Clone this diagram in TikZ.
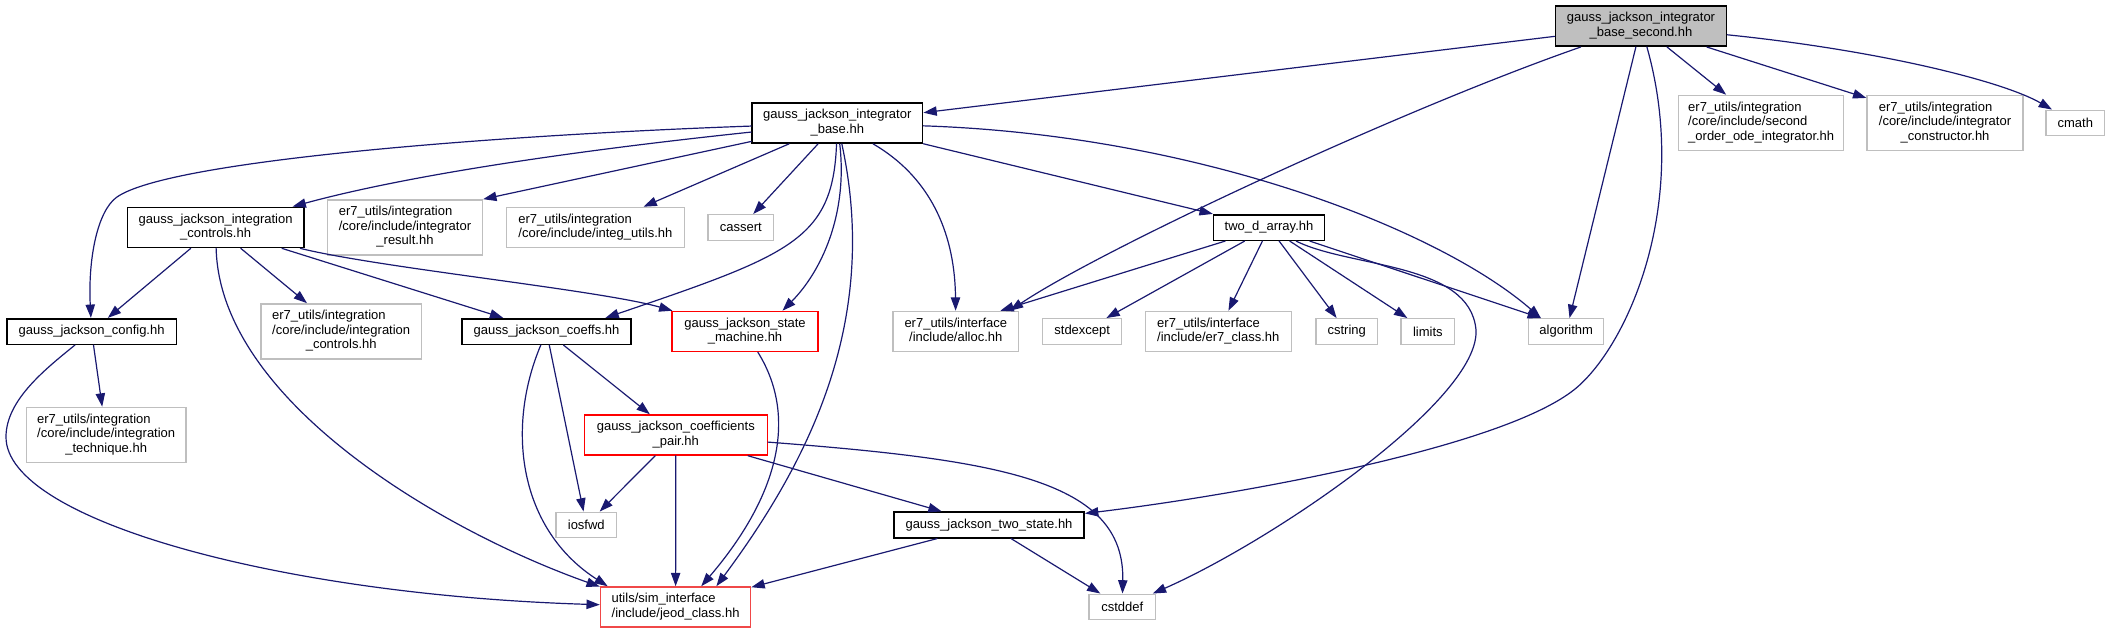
\documentclass[tikz,border=0pt]{standalone}
\usepackage{fontspec}
\setmainfont{Liberation Sans}
\usetikzlibrary{arrows.meta}

\definecolor{edgeBlue}{RGB}{25,25,112}
\definecolor{grey75}{RGB}{191,191,191}
\definecolor{truncRed}{RGB}{255,0,0}
\definecolor{truncRedLight}{RGB}{240,72,72}

% multi-line labels: lines left, last line centred
\newcommand{\flines}[1]{\begin{tabular}{@{}l@{}}#1\end{tabular}}
\newcommand{\lastln}[1]{\multicolumn{1}{@{}c@{}}{#1}}

\begin{document}
\begin{tikzpicture}[x=0.75pt, y=-0.75pt]

% ---------------- styles ----------------
\tikzset{
  incFile/.style  ={draw=black, fill=white, line width=1.2pt, inner sep=0pt,
                    font=\fontsize{9.75}{10.8}\selectfont},
  incRoot/.style  ={incFile, fill=grey75},
  incExt/.style   ={incFile, draw=grey75, line width=1pt},
  incTrunc/.style ={incFile, draw=truncRed, line width=1pt},
  sz/.style 2 args={minimum width=#1*0.75pt, minimum height=#2*0.75pt},
  incEdge/.style  ={draw=edgeBlue, line width=0.9pt, line cap=round,
                    -{Triangle[length=10pt, width=7pt]}}
}

% ---------------- parameters (pixel grid) ----------------
\def\yA{26}     % rank y
\def\yB{123}
\def\yC{227.5}
\def\yD{331.5}
\def\yE{435}
\def\yF{525}
\def\yG{607}
\def\hOne{25.6}   % box heights
\def\hTwo{40.2}
\def\hThree{55.3}

\useasboundingbox (0,0) rectangle (2110,632);

% ---------------- files ----------------
\node[incRoot, sz={171}{40.5}] (root) at (1641,\yA)
  {\flines{gauss\_jackson\_integrator\\\lastln{\_base\_second.hh}}};

\node[incFile, sz={170.6}{\hTwo}] (gjBase) at (837.3,\yB)
  {\flines{gauss\_jackson\_integrator\\\lastln{\_base.hh}}};
\node[incExt, sz={165}{\hThree}] (er7Second) at (1761.2,\yB)
  {\flines{er7\_utils/integration\\/core/include/second\\\lastln{\_order\_ode\_integrator.hh}}};
\node[incExt, sz={156}{\hThree}] (er7Constructor) at (1945,\yB)
  {\flines{er7\_utils/integration\\/core/include/integrator\\\lastln{\_constructor.hh}}};
\node[incExt, sz={58.5}{\hOne}] (sysCmath) at (2075.3,\yB) {cmath};

\node[incFile, sz={176.2}{\hTwo}] (gjControls) at (215.6,\yC)
  {\flines{gauss\_jackson\_integration\\\lastln{\_controls.hh}}};
\node[incExt, sz={155}{\hThree}] (er7Result) at (405,\yC)
  {\flines{er7\_utils/integration\\/core/include/integrator\\\lastln{\_result.hh}}};
\node[incExt, sz={178}{\hTwo}] (er7IntegUtils) at (595.4,\yC)
  {\flines{er7\_utils/integration\\\lastln{/core/include/integ\_utils.hh}}};
\node[incExt, sz={65.6}{\hOne}] (sysCassert) at (740.8,\yC) {cassert};
\node[incFile, sz={110.8}{\hOne}] (twoDArray) at (1269,\yC) {two\_d\_array.hh};

\node[incFile, sz={169.8}{\hOne}] (gjConfig) at (91.6,\yD) {gauss\_jackson\_config.hh};
\node[incExt, sz={160.5}{\hThree}] (er7IntControls) at (341.2,\yD)
  {\flines{er7\_utils/integration\\/core/include/integration\\\lastln{\_controls.hh}}};
\node[incFile, sz={169}{\hOne}] (gjCoeffs) at (546.5,\yD) {gauss\_jackson\_coeffs.hh};
\node[incTrunc, sz={146}{\hTwo}] (gjState) at (745,\yD)
  {\flines{gauss\_jackson\_state\\\lastln{\_machine.hh}}};
\node[incExt, sz={125.6}{\hTwo}] (er7Alloc) at (955.8,\yD)
  {\flines{er7\_utils/interface\\\lastln{/include/alloc.hh}}};
\node[incExt, sz={79.2}{\hOne}] (sysStdexcept) at (1082.2,\yD) {stdexcept};
\node[incExt, sz={146}{\hTwo}] (er7Class) at (1218.3,\yD)
  {\flines{er7\_utils/interface\\\lastln{/include/er7\_class.hh}}};
\node[incExt, sz={61.7}{\hOne}] (sysCstring) at (1346.7,\yD) {cstring};
\node[incExt, sz={53.7}{\hOne}] (sysLimits) at (1427.9,\yD) {limits};
\node[incExt, sz={75}{\hOne}] (sysAlgorithm) at (1566.2,\yD) {algorithm};

\node[incExt, sz={159.5}{\hThree}] (er7Technique) at (106.2,\yE)
  {\flines{er7\_utils/integration\\/core/include/integration\\\lastln{\_technique.hh}}};
\node[incTrunc, sz={183}{\hTwo}] (gjPair) at (675.8,\yE)
  {\flines{gauss\_jackson\_coefficients\\\lastln{\_pair.hh}}};

\node[incExt, sz={60.6}{\hOne}] (sysIosfwd) at (586.3,\yF) {iosfwd};
\node[incFile, sz={190.4}{\hOne}] (gjTwoState) at (989,\yF) {gauss\_jackson\_two\_state.hh};

\node[incTrunc, draw=truncRedLight, sz={150.2}{\hTwo}] (jeodClass) at (675.6,\yG)
  {\flines{utils/sim\_interface\\\lastln{/include/jeod\_class.hh}}};
\node[incExt, sz={66.4}{\hOne}] (sysCstddef) at (1122.2,\yG) {cstddef};

% ---------------- includes of the root ----------------
\draw[incEdge] (root) -- (gjBase);
\draw[incEdge] (root) .. controls (1400,110) and (1100,250) .. (er7Alloc.21);
\draw[incEdge] (root) -- (sysAlgorithm);
\draw[incEdge] (root) .. controls (1690,200) and (1630.5,340) .. (1578,386.5)
  .. controls (1510.5,446) and (1242,494.5) .. (gjTwoState);
\draw[incEdge] (root) -- (er7Second);
\draw[incEdge] (root) -- (er7Constructor);
\draw[incEdge] (root) .. controls (1876.5,50) and (2002,80.7) .. (sysCmath);

% ---------------- gauss_jackson_integrator_base.hh ----------------
\draw[incEdge] (gjBase) .. controls (500,135) and (170,160) .. (117,197)
  .. controls (97,211) and (88,260) .. (gjConfig);
\draw[incEdge] (gjBase) .. controls (600,148) and (420,172) .. (gjControls);
\draw[incEdge] (gjBase) -- (er7Result.north east);
\draw[incEdge] (gjBase) -- (er7IntegUtils);
\draw[incEdge] (gjBase) -- (sysCassert);
\draw[incEdge] (gjBase) .. controls (833,240) and (790,255) .. (gjCoeffs.13);
\draw[incEdge] (gjBase) .. controls (848,215) and (821,271.8) .. (gjState.29);
\draw[incEdge] (gjBase) .. controls (880,320) and (810,460) .. (jeodClass.27);
\draw[incEdge] (gjBase) .. controls (935,180) and (955,240) .. (er7Alloc);
\draw[incEdge] (gjBase) -- (twoDArray);
\draw[incEdge] (gjBase) .. controls (1200,135) and (1440,230) .. (sysAlgorithm.152);

% ---------------- gauss_jackson_integration_controls.hh ----------------
\draw[incEdge] (gjControls) -- (gjConfig);
\draw[incEdge] (gjControls) .. controls (220,400) and (440,530) .. (jeodClass.165);
\draw[incEdge] (gjControls) -- (er7IntControls);
\draw[incEdge] (gjControls) -- (gjCoeffs);
\draw[incEdge] (gjControls) .. controls (380,268) and (600,290) .. (gjState);

% ---------------- rank 3 and below ----------------
\draw[incEdge] (gjConfig) -- (er7Technique);
\draw[incEdge] (gjConfig) .. controls (45.5,369) and (6,400) .. (6,437)
  .. controls (6,520) and (280,595) .. (jeodClass);

\draw[incEdge] (gjCoeffs) .. controls (505,430) and (520,530) .. (jeodClass.163);
\draw[incEdge] (gjCoeffs) -- (sysIosfwd);
\draw[incEdge] (gjCoeffs) -- (gjPair);

\draw[incEdge] (gjState) .. controls (800,420) and (775,500) .. (jeodClass.39);

\draw[incEdge] (gjPair) -- (sysIosfwd);
\draw[incEdge] (gjPair) -- (jeodClass);
\draw[incEdge] (gjPair) -- (gjTwoState);
\draw[incEdge] (gjPair) .. controls (1000,460) and (1125,480) .. (sysCstddef);

\draw[incEdge] (gjTwoState) -- (jeodClass);
\draw[incEdge] (gjTwoState) -- (sysCstddef);

% ---------------- two_d_array.hh ----------------
\draw[incEdge] (twoDArray) -- (er7Alloc.25);
\draw[incEdge] (twoDArray) -- (sysStdexcept);
\draw[incEdge] (twoDArray) -- (er7Class);
\draw[incEdge] (twoDArray) -- (sysCstring);
\draw[incEdge] (twoDArray) -- (sysLimits);
\draw[incEdge] (twoDArray) .. controls (1350,268) and (1470,262) .. (1476,330)
  .. controls (1480,400) and (1272.7,540.8) .. (sysCstddef);
\draw[incEdge] (twoDArray) -- (sysAlgorithm.152);

\end{tikzpicture}
\end{document}
